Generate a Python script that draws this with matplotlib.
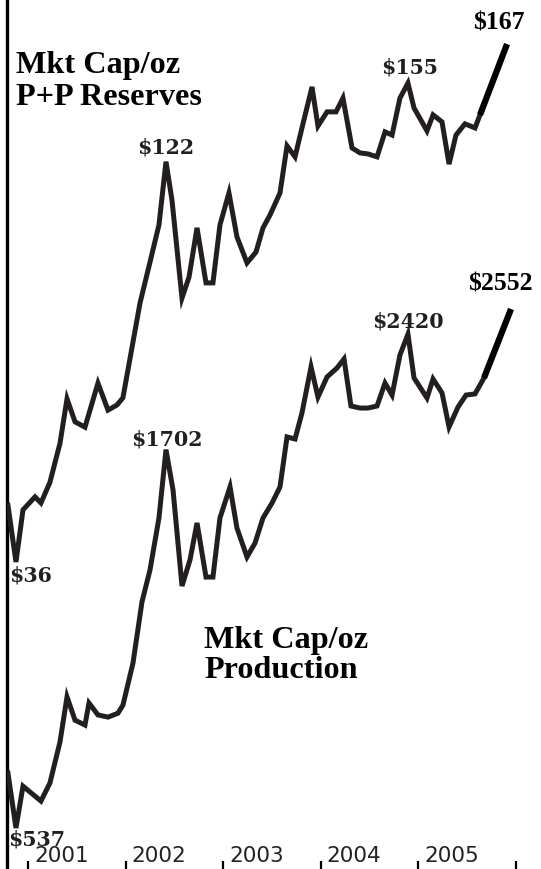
import matplotlib
matplotlib.use("Agg")
import matplotlib.pyplot as plt
import matplotlib.transforms as mtransforms

# ---- data ----
res_years = [2000.795, 2000.877, 2000.949, 2001.072, 2001.133, 2001.225, 2001.328, 2001.400,
             2001.482, 2001.584, 2001.717, 2001.820, 2001.912, 2001.973, 2002.148, 2002.250,
             2002.342, 2002.414, 2002.475, 2002.578, 2002.650, 2002.732, 2002.824, 2002.895,
             2002.967, 2003.059, 2003.141, 2003.244, 2003.336, 2003.408, 2003.480, 2003.582,
             2003.654, 2003.736, 2003.807, 2003.910, 2003.971, 2004.064, 2004.156, 2004.227,
             2004.320, 2004.402, 2004.484, 2004.576, 2004.658, 2004.730, 2004.811, 2004.893,
             2004.955, 2005.088, 2005.150, 2005.242, 2005.314, 2005.385, 2005.477, 2005.580,
             2005.631]
res_values = [42.8, 36.0, 42.2, 43.9, 43.1, 45.9, 51.7, 59.2, 55.2, 54.3, 62.1, 57.2, 58.1,
              59.4, 79.3, 89.8, 100.6, 122.0, 108.6, 80.5, 85.8, 99.7, 84.3, 84.3, 100.6, 110.9,
              97.0, 89.6, 92.6, 99.7, 103.7, 110.9, 128.0, 123.8, 135.2, 153.2, 136.0, 142.0,
              142.0, 148.1, 127.2, 125.3, 124.9, 123.8, 133.6, 132.3, 148.1, 155.0, 143.7, 134.0,
              140.7, 137.7, 121.1, 132.3, 136.9, 135.2, 140.7]
res_last_years = [2005.631, 2005.908]
res_last_values = [140.7, 174.6]

prod_years = [2000.795, 2000.877, 2000.949, 2001.133, 2001.225, 2001.328, 2001.400, 2001.482,
              2001.584, 2001.625, 2001.717, 2001.820, 2001.922, 2001.973, 2002.076, 2002.168,
              2002.250, 2002.342, 2002.414, 2002.486, 2002.578, 2002.660, 2002.732, 2002.824,
              2002.895, 2002.967, 2003.070, 2003.141, 2003.244, 2003.326, 2003.408, 2003.500,
              2003.582, 2003.654, 2003.736, 2003.807, 2003.900, 2003.971, 2004.064, 2004.166,
              2004.238, 2004.309, 2004.402, 2004.484, 2004.576, 2004.658, 2004.730, 2004.811,
              2004.893, 2004.955, 2005.088, 2005.150, 2005.242, 2005.314, 2005.406, 2005.488,
              2005.580, 2005.672]
prod_values = [635, 537, 610, 583, 616, 698, 801, 746, 735, 786, 758, 753, 762, 781, 888, 1070,
               1179, 1382, 1702, 1505, 1123, 1216, 1361, 1154, 1154, 1382, 1519, 1340, 1227, 1280,
               1382, 1446, 1519, 1769, 1758, 1903, 2190, 1998, 2124, 2183, 2244, 1944, 1932, 1932,
               1944, 2085, 2010, 2271, 2420, 2118, 1992, 2111, 2023, 1824, 1938, 2010, 2017, 2118]
prod_last_years = [2005.672, 2005.949]
prod_last_values = [2118, 2613]

tick_years = [2001, 2002, 2003, 2004, 2005, 2006]
label_years = ["2001", "2002", "2003", "2004", "2005"]

res_title = ["Mkt Cap/oz", "P+P Reserves"]
prod_title = ["Mkt Cap/oz", "Production"]
value_labels_small = ["$122", "$155", "$36", "$1702", "$2420", "$537"]
value_labels_big = ["$167", "$2552"]

# ---- figure ----
W, H = 541, 869
fig = plt.figure(figsize=(W / 100, H / 100), dpi=100)
fig.patch.set_facecolor("white")
ax = fig.add_axes([6.5 / W, 0, 1 - 6.5 / W, 1])
ax2 = ax.twinx()

line_col = "#231f20"
ax.plot(res_years, res_values, color=line_col, lw=3.6, solid_joinstyle="miter", zorder=3)
ax.plot(res_last_years, res_last_values, color="black", lw=4.5, solid_capstyle="butt", zorder=3)
ax2.plot(prod_years, prod_values, color=line_col, lw=3.6, solid_joinstyle="miter", zorder=3)
ax2.plot(prod_last_years, prod_last_values, color="black", lw=4.5, solid_capstyle="butt", zorder=3)

for a in (ax, ax2):
    a.set_yscale("log")
    a.set_xlim(2000.780, 2006.256)
    a.yaxis.set_major_locator(matplotlib.ticker.NullLocator())
    a.yaxis.set_minor_locator(matplotlib.ticker.NullLocator())
    for s in ("top", "right", "bottom"):
        a.spines[s].set_visible(False)
ax.set_ylim(14.12, 199.7)
ax2.set_ylim(473.9, 6703)
ax2.spines["left"].set_visible(False)
ax.spines["left"].set_linewidth(2.4)
ax.spines["left"].set_color("black")

ax.set_xticks(tick_years)
ax.set_xticklabels([])
ax.tick_params(axis="x", direction="in", length=5.5, width=1.6, color="black")
ax2.tick_params(axis="x", bottom=False, labelbottom=False)

off = mtransforms.offset_copy(ax.get_xaxis_transform(), fig=fig, x=6, y=0, units="dots")
for yr, lab in zip(tick_years, label_years):
    ax.text(yr, 13 / H, lab, transform=off, ha="left", va="center",
            fontsize=15.5, family="DejaVu Sans", color="#222222")

def px(x, y):
    return x / W, 1 - y / H

serif_b = dict(family="Liberation Serif", weight="bold", color="black")
for lab, base in zip(res_title, [73, 105]):
    fig.text(*px(16, base), lab, ha="left", va="baseline", fontsize=23.2, **serif_b)
for lab, base in zip(prod_title, [648, 678]):
    fig.text(*px(204, base), lab, ha="left", va="baseline", fontsize=23.2, **serif_b)

small_pos = [(166, 147), (410, 68), (31, 575), (167, 439), (408, 322), (37, 839)]
for lab, (x, y) in zip(value_labels_small, small_pos):
    fig.text(*px(x, y), lab, ha="center", va="center", fontsize=14.8,
             family="DejaVu Serif", weight="bold", color="#231f20")
big_pos = [(499, 23), (500, 284)]
for lab, (x, y) in zip(value_labels_big, big_pos):
    fig.text(*px(x, y), lab, ha="center", va="center", fontsize=18.5, **serif_b)

fig.savefig("out.png", dpi=100, facecolor="white")
